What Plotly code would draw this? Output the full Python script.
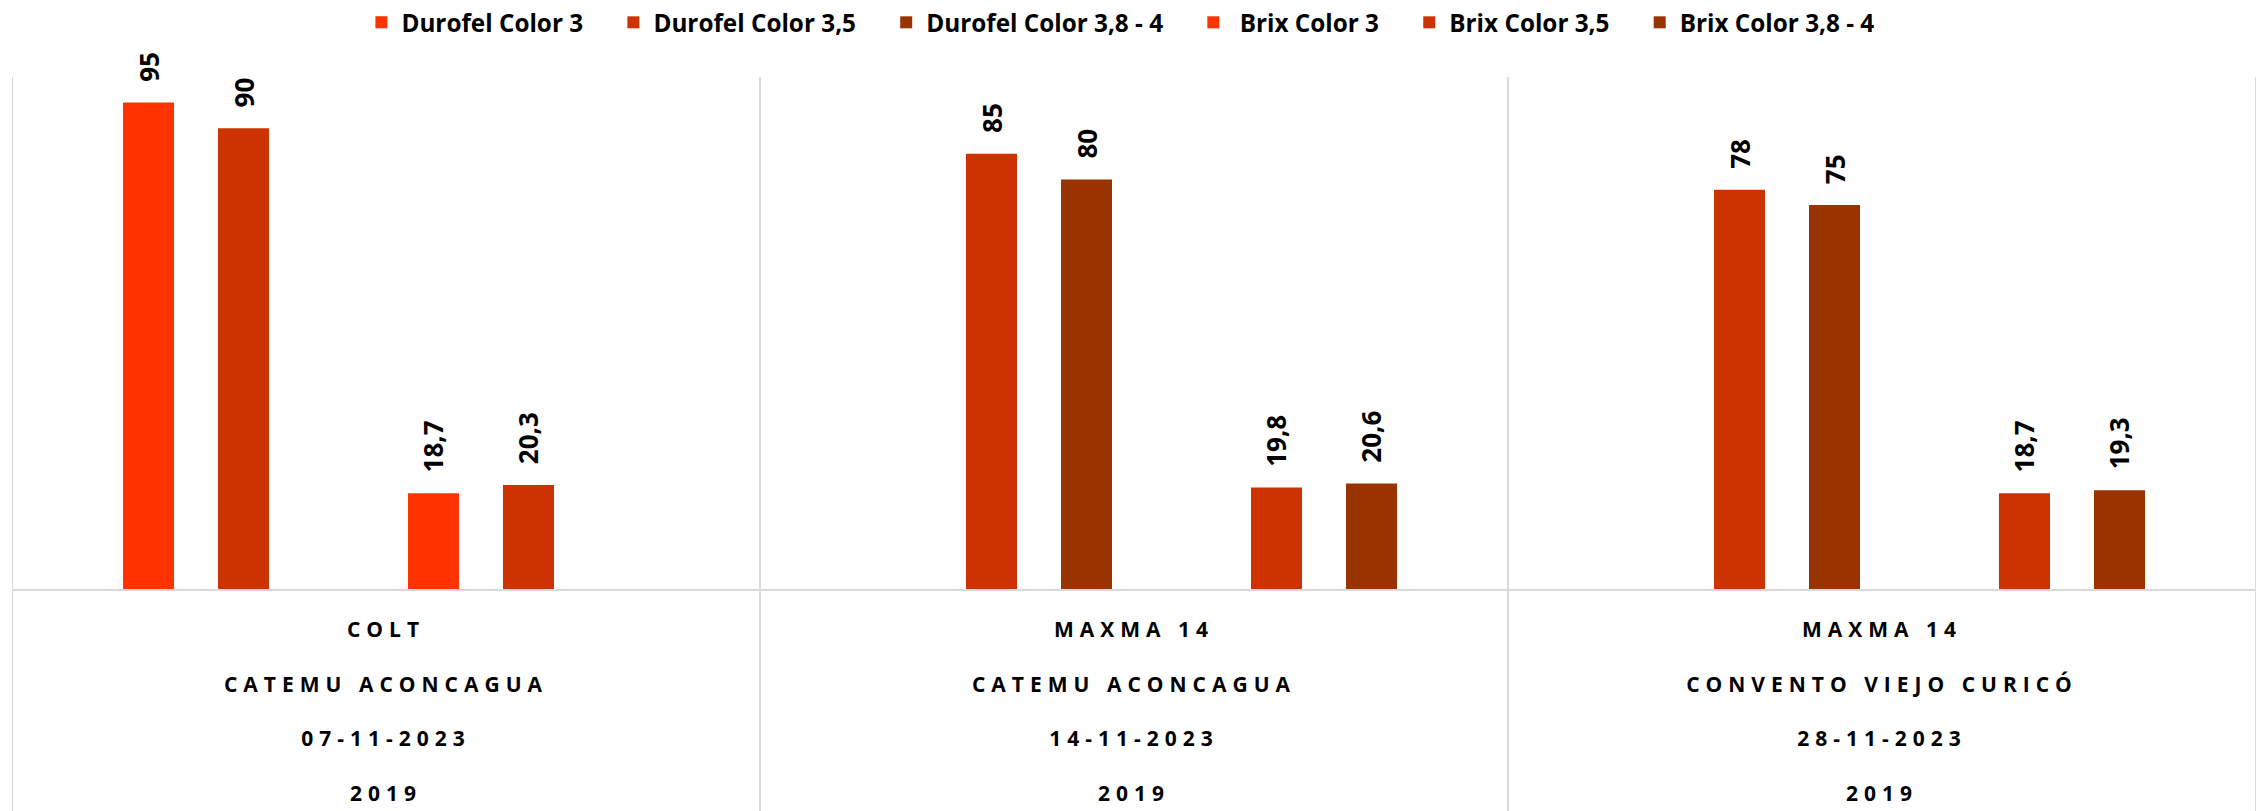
import plotly.graph_objects as go

# grupos (variedad / localidad / fecha / año plantación)
variedades = ["COLT", "MAXMA 14", "MAXMA 14"]
localidades = ["CATEMU ACONCAGUA", "CATEMU ACONCAGUA", "CONVENTO VIEJO CURICÓ"]
fechas = ["07-11-2023", "14-11-2023", "28-11-2023"]
anios = ["2019", "2019", "2019"]

series = ["Durofel Color 3", "Durofel Color 3,5", "Durofel Color 3,8 - 4",
          "\u00a0Brix Color 3", "Brix Color 3,5", "Brix Color 3,8 - 4"]
colores = ["#FF3300", "#CC3300", "#993300", "#FF3300", "#CC3300", "#993300"]

durofel_3 = [95, None, None]
durofel_35 = [90, 85, 78]
durofel_38 = [None, 80, 75]
brix_3 = [18.7, None, None]
brix_35 = [20.3, 19.8, 18.7]
brix_38 = [None, 20.6, 19.3]
valores = [durofel_3, durofel_35, durofel_38, brix_3, brix_35, brix_38]

FONT = "Open Sans"
grupos = [f"g{i}" for i in range(len(variedades))]


def spaced(s):
    return f'<span style="letter-spacing:6px">{s}</span>'


ticktext = ["<br><br>".join(spaced(t) for t in (v, l, f, a))
            for v, l, f, a in zip(variedades, localidades, fechas, anios)]


def etiqueta(v):
    if v is None:
        return ""
    return "\u00a0\u00a0\u2009" + f"{v:g}".replace(".", ",")


fig = go.Figure()
for nombre, col, vals in zip(series, colores, valores):
    fig.add_trace(go.Bar(
        x=grupos, y=vals, name=nombre + "\u00a0" * 4,
        marker=dict(color=col, line=dict(width=0)),
        text=[etiqueta(v) for v in vals],
        textposition="outside", textangle=-90,
        textfont=dict(family=FONT, size=26, color="black", weight="bold"),
        constraintext="none", cliponaxis=False,
    ))

# separadores verticales entre grupos
for i in range(len(grupos) + 1):
    fig.add_shape(type="line", xref="x", yref="paper",
                  x0=i - 0.5, x1=i - 0.5, y0=-0.5, y1=1,
                  line=dict(color="#D9D9D9", width=2), layer="below")

fig.update_layout(
    width=2260, height=811,
    margin=dict(l=11.5, r=4, t=77, b=222, autoexpand=False),
    paper_bgcolor="white", plot_bgcolor="white",
    barmode="group", bargap=0.238, bargroupgap=0.463,
    showlegend=True,
    legend=dict(orientation="h", x=0.1557, xanchor="left",
                y=1.1064, yanchor="middle",
                font=dict(family=FONT, size=24.3, color="black", weight="bold"),
                traceorder="normal"),
    font=dict(family=FONT),
)
fig.update_xaxes(
    tickmode="array", tickvals=grupos, ticktext=ticktext,
    tickfont=dict(family=FONT, size=21, color="black", weight="bold"),
    showline=True, linecolor="#D9D9D9", linewidth=2,
    showgrid=False, ticks="", automargin=False, ticklabelstandoff=21,
    range=[-0.5, len(grupos) - 0.5],
)
fig.update_yaxes(range=[0, 100], showgrid=False, showticklabels=False,
                 zeroline=False, showline=False, automargin=False)

# sin margen en el body para que la figura ocupe toda la ventana
fig.write_html("out.html", config={"displayModeBar": False},
               post_script="document.body.style.margin='0';")
